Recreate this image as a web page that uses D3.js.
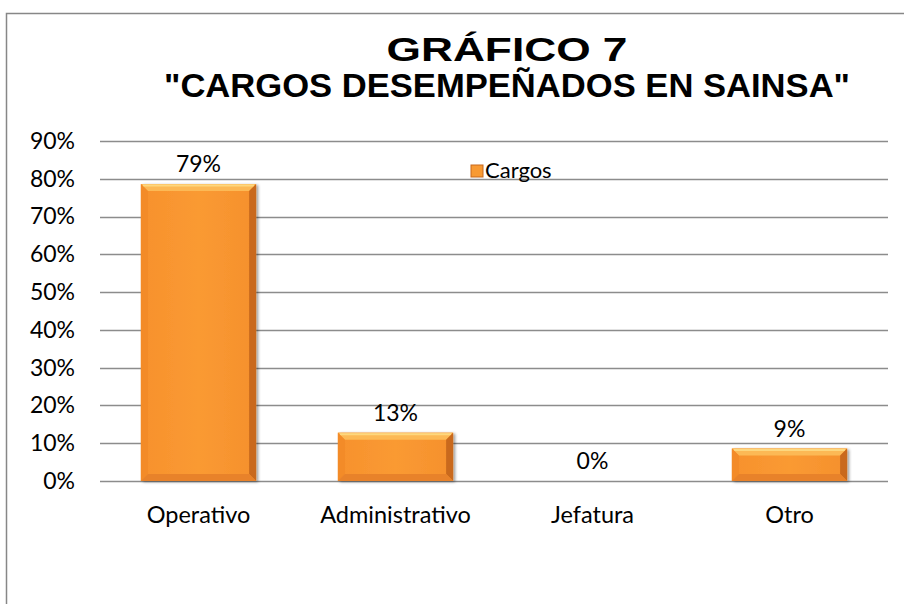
<!DOCTYPE html>
<html>
<head>
<meta charset="utf-8">
<script src="https://cdn.jsdelivr.net/npm/d3@7"></script>
<style>
  body { margin: 0; background: #fff; }
  svg { display: block; }
</style>
</head>
<body>
<svg id="chart" width="904" height="604"></svg>
<script>
// data
const categories = ["Operativo", "Administrativo", "Jefatura", "Otro"];
const values = [0.786, 0.128, 0, 0.086];
const valueLabels = ["79%", "13%", "0%", "9%"];
const yTicks = [0, 0.1, 0.2, 0.3, 0.4, 0.5, 0.6, 0.7, 0.8, 0.9];
const seriesName = "Cargos";
const titleLines = ["GRÁFICO 7", "\"CARGOS DESEMPEÑADOS EN SAINSA\""];

const svg = d3.select("#chart");
const padding = { top: 141, right: 16, bottom: 123, left: 100 };
const width = +svg.attr("width");
const height = +svg.attr("height");
const font = "Lato, Open Sans, sans-serif";

const defs = svg.append("defs");
const f = defs.append("filter").attr("id", "shadow")
  .attr("x", "-10%").attr("y", "-10%").attr("width", "130%").attr("height", "130%");
f.append("feDropShadow").attr("dx", 2).attr("dy", 1).attr("stdDeviation", 1.5)
  .attr("flood-color", "#000").attr("flood-opacity", 0.4);

const grad = defs.append("linearGradient").attr("id", "barFill")
  .attr("x1", 0).attr("x2", 1).attr("y1", 0).attr("y2", 0);
grad.append("stop").attr("offset", "0%").attr("stop-color", "#f7912c");
grad.append("stop").attr("offset", "50%").attr("stop-color", "#fa9a33");
grad.append("stop").attr("offset", "100%").attr("stop-color", "#f5902c");

// outer frame (only left and top visible)
svg.append("path")
  .attr("d", `M6.5,${height + 5}V13.5H${width + 5}`)
  .attr("fill", "none")
  .attr("stroke", "#878787")
  .attr("stroke-width", 1.5);

// title
const titleWidths = [241, 686];
svg.append("g")
  .selectAll("text")
  .data(titleLines)
  .enter()
  .append("text")
  .attr("x", 507)
  .attr("y", (d, i) => 61 + i * 36)
  .attr("text-anchor", "middle")
  .attr("font-family", "Liberation Sans, Arial, sans-serif")
  .attr("font-weight", "bold")
  .attr("font-size", "33px")
  .attr("fill", "#000")
  .attr("textLength", (d, i) => titleWidths[i])
  .attr("lengthAdjust", "spacingAndGlyphs")
  .text(d => d);

var xScale = d3.scaleBand()
  .domain(categories)
  .range([padding.left, width - padding.right])
  .paddingInner(0.415)
  .paddingOuter(0.2075);

var yScale = d3.scaleLinear()
  .domain([0, 0.9])
  .range([height - padding.bottom, padding.top]);

// gridlines
svg.append("g")
  .selectAll("line")
  .data(yTicks)
  .enter()
  .append("line")
  .attr("x1", padding.left)
  .attr("x2", width - padding.right)
  .attr("y1", d => Math.round(yScale(d)) + 0.5)
  .attr("y2", d => Math.round(yScale(d)) + 0.5)
  .attr("stroke", "#8c8c8c")
  .attr("stroke-width", 1.5);

// y axis labels
var yAxis = d3.axisLeft(yScale)
  .tickValues(yTicks)
  .tickFormat(d3.format(".0%"))
  .tickSize(0)
  .tickPadding(25);
svg.append("g")
  .attr("transform", `translate(${padding.left},0)`)
  .call(yAxis)
  .call(g => g.select(".domain").remove())
  .selectAll("text")
  .attr("font-family", font)
  .attr("font-size", "23px")
  .attr("fill", "#000");

// x axis labels
var xAxis = d3.axisBottom(xScale).tickSize(0).tickPadding(25);
svg.append("g")
  .attr("transform", `translate(0,${height - padding.bottom})`)
  .call(xAxis)
  .call(g => g.select(".domain").remove())
  .selectAll("text")
  .attr("font-family", font)
  .attr("font-size", "23.5px")
  .attr("fill", "#000");

// bars with bevel
const bevel = 7;
const bars = svg.append("g")
  .selectAll("g")
  .data(categories.map((c, i) => ({ c, v: values[i], label: valueLabels[i] })))
  .enter()
  .append("g");

bars.filter(d => d.v > 0).each(function(d) {
  const g = d3.select(this);
  const x0 = xScale(d.c), x1 = x0 + xScale.bandwidth();
  const y0 = yScale(d.v), y1 = yScale(0);
  const b = Math.min(bevel, (y1 - y0) / 2);
  g.append("rect")
    .attr("x", x0).attr("y", y0)
    .attr("width", x1 - x0).attr("height", y1 - y0)
    .attr("fill", "url(#barFill)")
    .attr("filter", "url(#shadow)");
  // top bevel
  g.append("path")
    .attr("d", `M${x0},${y0}H${x1}L${x1 - b},${y0 + b}H${x0 + b}Z`)
    .attr("fill", "#fcb955");
  g.append("line")
    .attr("x1", x0 + 2).attr("x2", x1 - 2)
    .attr("y1", y0 + 1.5).attr("y2", y0 + 1.5)
    .attr("stroke", "#fdd77e").attr("stroke-width", 2);
  // left bevel
  g.append("path")
    .attr("d", `M${x0},${y0}L${x0 + b},${y0 + b}V${y1 - b}L${x0},${y1}Z`)
    .attr("fill", "#f38b28");
  // right bevel
  g.append("path")
    .attr("d", `M${x1},${y0}L${x1 - b},${y0 + b}V${y1 - b}L${x1},${y1}Z`)
    .attr("fill", "#c9691d");
  // bottom bevel
  g.append("path")
    .attr("d", `M${x0},${y1}L${x0 + b},${y1 - b}H${x1 - b}L${x1},${y1}Z`)
    .attr("fill", "#e8822a");
});

// value labels
bars.append("text")
  .attr("x", d => xScale(d.c) + xScale.bandwidth() / 2)
  .attr("y", d => yScale(d.v) - 12)
  .attr("text-anchor", "middle")
  .attr("font-family", font)
  .attr("font-size", "23px")
  .attr("fill", "#000")
  .text(d => d.label);

// legend
const legend = svg.append("g").attr("transform", "translate(471,165)");
legend.append("rect")
  .attr("width", 12).attr("height", 12)
  .attr("fill", "#f89a33")
  .attr("stroke", "#c7681c")
  .attr("stroke-width", 1);
legend.append("text")
  .attr("x", 14).attr("y", 13)
  .attr("font-family", font)
  .attr("font-size", "22px")
  .attr("fill", "#000")
  .text(seriesName);
</script>
</body>
</html>
